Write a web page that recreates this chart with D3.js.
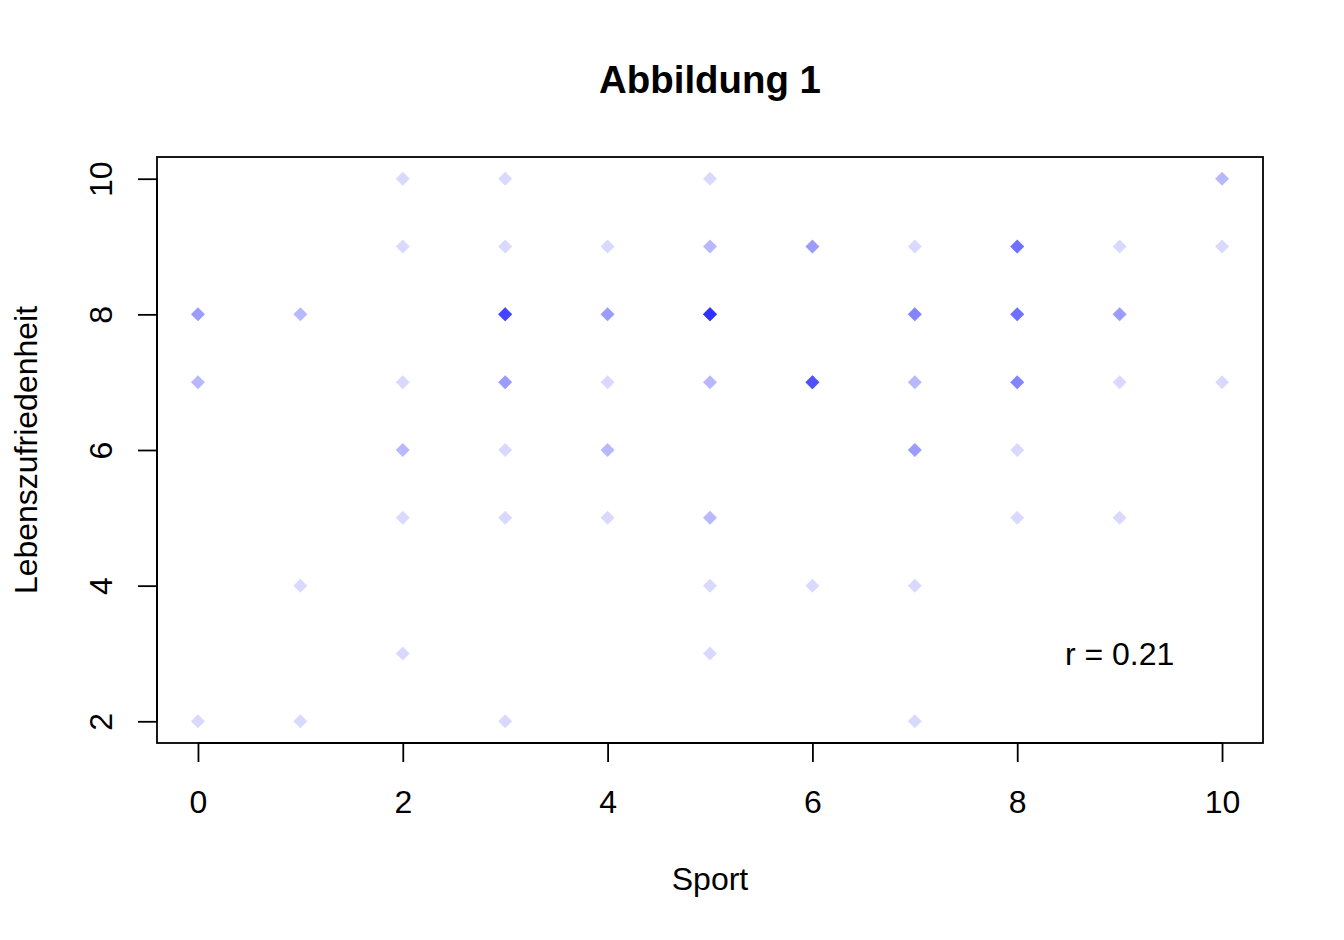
<!DOCTYPE html>
<html>
<head>
<meta charset="utf-8">
<script src="https://cdn.jsdelivr.net/npm/d3@7"></script>
<style>
  html, body { margin: 0; padding: 0; background: #ffffff; }
  svg { display: block; font-family: "Liberation Sans", Arial, Helvetica, sans-serif; }
</style>
</head>
<body>
<svg id="chart" width="1344" height="940"></svg>
<script>
// Data: unique (Sport, Lebenszufriedenheit) positions and how many observations sit on each
const sport = [0,0,0, 1,1,1, 2,2,2,2,2,2, 3,3,3,3,3,3,3, 4,4,4,4,4, 5,5,5,5,5,5,5, 6,6,6, 7,7,7,7,7,7, 8,8,8,8,8, 9,9,9,9, 10,10,10];
const leben = [8,7,2, 8,4,2, 10,9,7,6,5,3, 10,9,8,7,6,5,2, 9,8,7,6,5, 10,9,8,7,5,4,3, 9,7,4, 9,8,7,6,4,2, 9,8,7,6,5, 9,8,7,5, 10,9,7];
const counts = [3,2,1, 2,1,1, 1,1,1,2,1,1, 1,1,8,3,1,1,1, 1,3,1,2,1, 1,2,10,2,2,1,1, 3,7,1, 1,4,2,3,1,1, 5,5,4,1,1, 1,3,1,1, 2,1,1];
const xTicks = [0, 2, 4, 6, 8, 10];
const yTicks = [2, 4, 6, 8, 10];
const titleText = "Abbildung 1";
const xLabel = "Sport";
const yLabel = "Lebenszufriedenheit";
const annotation = "r = 0.21";

(function () {
// expand to individual observations (drawn semi-transparent, overplotting darkens)
const obs = [];
sport.forEach((s, i) => { for (let k = 0; k < counts[i]; k++) obs.push({x: s, y: leben[i]}); });

const svg = d3.select("#chart");
const pL = 157, pR = 1263, pT = 157, pB = 743;

const x = d3.scaleLinear().domain([-0.4, 10.4]).range([pL, pR]);
const y = d3.scaleLinear().domain([1.68, 10.32]).range([pB, pT]);

// Title
svg.append("text")
  .attr("x", (pL + pR) / 2).attr("y", 93)
  .attr("text-anchor", "middle")
  .attr("font-size", 38.4).attr("font-weight", "bold")
  .text(titleText);

// Points
const half = 7;
svg.append("g").selectAll("path").data(obs).enter().append("path")
  .attr("d", d => {
    const cx = x(d.x), cy = y(d.y);
    return `M${cx},${cy - half}L${cx + half},${cy}L${cx},${cy + half}L${cx - half},${cy}Z`;
  })
  .attr("fill", "rgb(0,0,255)")
  .attr("fill-opacity", 0.15);

// Box
svg.append("rect")
  .attr("x", pL).attr("y", pT)
  .attr("width", pR - pL).attr("height", pB - pT)
  .attr("fill", "none").attr("stroke", "#000").attr("stroke-width", 1.8);

// X axis
const xAxis = d3.axisBottom(x).tickValues(xTicks).tickSize(19).tickPadding(28).tickFormat(d3.format("d"));
const gx = svg.append("g").attr("transform", `translate(0,${pB})`).call(xAxis);
gx.select(".domain").attr("d", `M${x(0)},0H${x(10)}`).attr("stroke-width", 1.8);
gx.selectAll(".tick line").attr("stroke-width", 1.8);
gx.selectAll(".tick text").attr("font-size", 32).attr("font-family", "Liberation Sans, Arial, sans-serif").attr("fill", "#000");

// Y axis
const yAxis = d3.axisLeft(y).tickValues(yTicks).tickSize(19).tickFormat(d3.format("d"));
const gy = svg.append("g").attr("transform", `translate(${pL},0)`).call(yAxis);
gy.select(".domain").attr("d", `M0,${y(2)}V${y(10)}`).attr("stroke-width", 1.8);
gy.selectAll(".tick line").attr("stroke-width", 1.8);
gy.selectAll(".tick text")
  .attr("font-size", 32).attr("font-family", "Liberation Sans, Arial, sans-serif").attr("fill", "#000")
  .attr("x", null).attr("dy", null)
  .attr("text-anchor", "middle")
  .attr("transform", "translate(-45,0) rotate(-90)");

// Axis titles
svg.append("text")
  .attr("x", (pL + pR) / 2).attr("y", 890)
  .attr("text-anchor", "middle").attr("font-size", 32)
  .text(xLabel);
svg.append("text")
  .attr("transform", `translate(37,${(pT + pB) / 2}) rotate(-90)`)
  .attr("text-anchor", "middle").attr("font-size", 32)
  .text(yLabel);

// Annotation
svg.append("text")
  .attr("x", x(9)).attr("y", y(3) + 11.5)
  .attr("text-anchor", "middle").attr("font-size", 32)
  .text(annotation);
})();
</script>
</body>
</html>
